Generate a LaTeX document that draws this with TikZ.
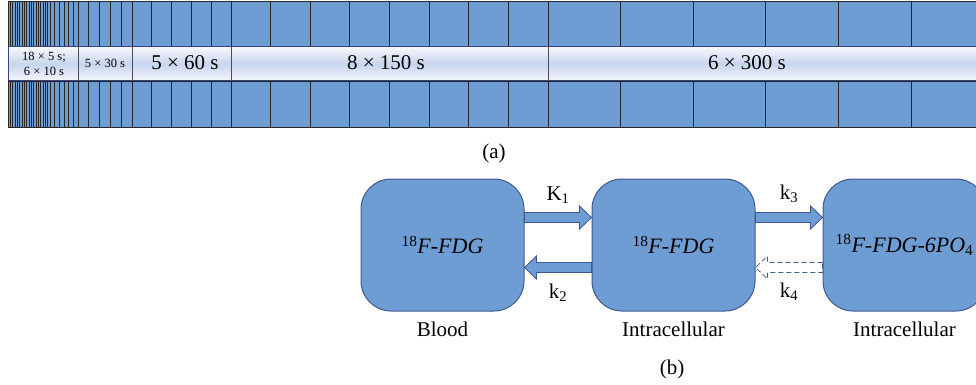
\documentclass[tikz,border=0pt]{standalone}
\usepackage{fontspec}
\setmainfont{Liberation Serif}
\usetikzlibrary{positioning,calc}
\definecolor{boxfill}{RGB}{110,157,211}
\definecolor{boxline}{RGB}{64,88,146}
\definecolor{bandline}{RGB}{52,70,130}
\definecolor{bandmid}{RGB}{200,213,238}
\definecolor{bandlight}{RGB}{246,247,252}

\begin{document}
\begin{tikzpicture}[
  x=1pt, y=-1pt,
  frame/.style={fill=boxfill, draw=black!85, line width=0.9pt},
  cell/.style={top color=bandlight, bottom color=bandlight, middle color=bandmid},
  compartment/.style={rectangle, rounded corners=30pt, fill=boxfill, draw=boxline,
    line width=1pt, minimum width=163pt, minimum height=132pt,
    font=\fontsize{22}{26}\selectfont},
  biglbl/.style={font=\fontsize{21}{25}\selectfont},
  smalllbl/.style={font=\fontsize{12.5}{15}\selectfont, align=center},
  blockarrow/.style={fill=boxfill, draw=boxline, line width=0.8pt,
    to path={let \p1=(\tikztostart), \p2=(\tikztotarget), \n1={sign(\x2-\x1)} in
      (\x1,\y1+5pt) -- (\x2-\n1*12pt,\y1+5pt) -- (\x2-\n1*12pt,\y1+11.5pt)
      -- (\x2,\y1) -- (\x2-\n1*12pt,\y1-11.5pt) -- (\x2-\n1*12pt,\y1-5pt)
      -- (\x1,\y1-5pt) -- cycle}},
  dasharrow/.style={blockarrow, fill=none, dash pattern=on 5pt off 3pt},
  node distance=67pt,
]
  \useasboundingbox (0,0) rectangle (976,385);

  % (a) frame sequence
  \foreach \xs/\n/\w in {8/18/2.333, 50/6/4.667, 78/5/10.8, 132/5/19.8, 231/8/39.625, 548/6/72.6}
    \foreach \k in {1,...,\n} {
      \draw[frame] (\xs+\k*\w-\w,1) rectangle ++(\w,46);
      \draw[frame] (\xs+\k*\w-\w,81) rectangle ++(\w,46);
    }
  \foreach \xa/\xb in {8/78, 78/132, 132/231, 231/548, 548/983}
    \shade[cell] (\xa,47) rectangle (\xb,81);
  \foreach \xs in {78,132,231,548}
    \draw[black!70, line width=0.8pt] (\xs,47) -- (\xs,81);
  \draw[bandline, line width=1pt] (8,47) -- (983,47) (8,81) -- (983,81) (8,47) -- (8,81);

  \node[smalllbl] (first)  at (44,64)  {18 × 5 s;\\6 × 10 s};
  \node[smalllbl] (thirty) at (105,63) {5 × 30 s};
  \node[biglbl]   (sixty)  at (185,63) {5 × 60 s};
  \node[biglbl]   (onefif) at (386,63) {8 × 150 s};
  \node[biglbl]   (threeh) at (747,63) {6 × 300 s};
  \node[biglbl]   (lbla)   at (494,153) {(a)};

  % (b) compartment model
  \node[compartment] (blood) at (442.5,245) {\textsuperscript{18}\textit{F-FDG}};
  \node[compartment, right=of blood] (intra) {\textsuperscript{18}\textit{F-FDG}};
  \node[compartment, right=of intra] (phos)  {\textsuperscript{18}\textit{F-FDG-6PO}\textsubscript{4}};

  \node[biglbl, below=7pt of blood] (bloodlbl) {Blood};
  \node[biglbl, below=7pt of intra] (intralbl) {Intracellular};
  \node[biglbl, below=7pt of phos]  (phoslbl)  {Intracellular};
  \node[biglbl] (lblb) at (672,369) {(b)};

  \draw[blockarrow] ([yshift=27.5pt]blood.east) to ([yshift=27.5pt]intra.west);
  \draw[blockarrow] ([yshift=-22.5pt]intra.west) to ([yshift=-22.5pt]blood.east);
  \draw[blockarrow] ([yshift=27.5pt]intra.east) to ([yshift=27.5pt]phos.west);
  \draw[dasharrow]  ([yshift=-22.5pt]phos.west) to ([yshift=-22.5pt]intra.east);

  \node[biglbl] (kone)   at ($(blood.east)!0.5!(intra.west)+(0,-50)$) {K\textsubscript{1}};
  \node[biglbl] (ktwo)   at ($(blood.east)!0.5!(intra.west)+(0,48)$)  {k\textsubscript{2}};
  \node[biglbl] (kthree) at ($(intra.east)!0.5!(phos.west)+(0,-51)$)  {k\textsubscript{3}};
  \node[biglbl] (kfour)  at ($(intra.east)!0.5!(phos.west)+(0,47)$)   {k\textsubscript{4}};
\end{tikzpicture}
\end{document}
